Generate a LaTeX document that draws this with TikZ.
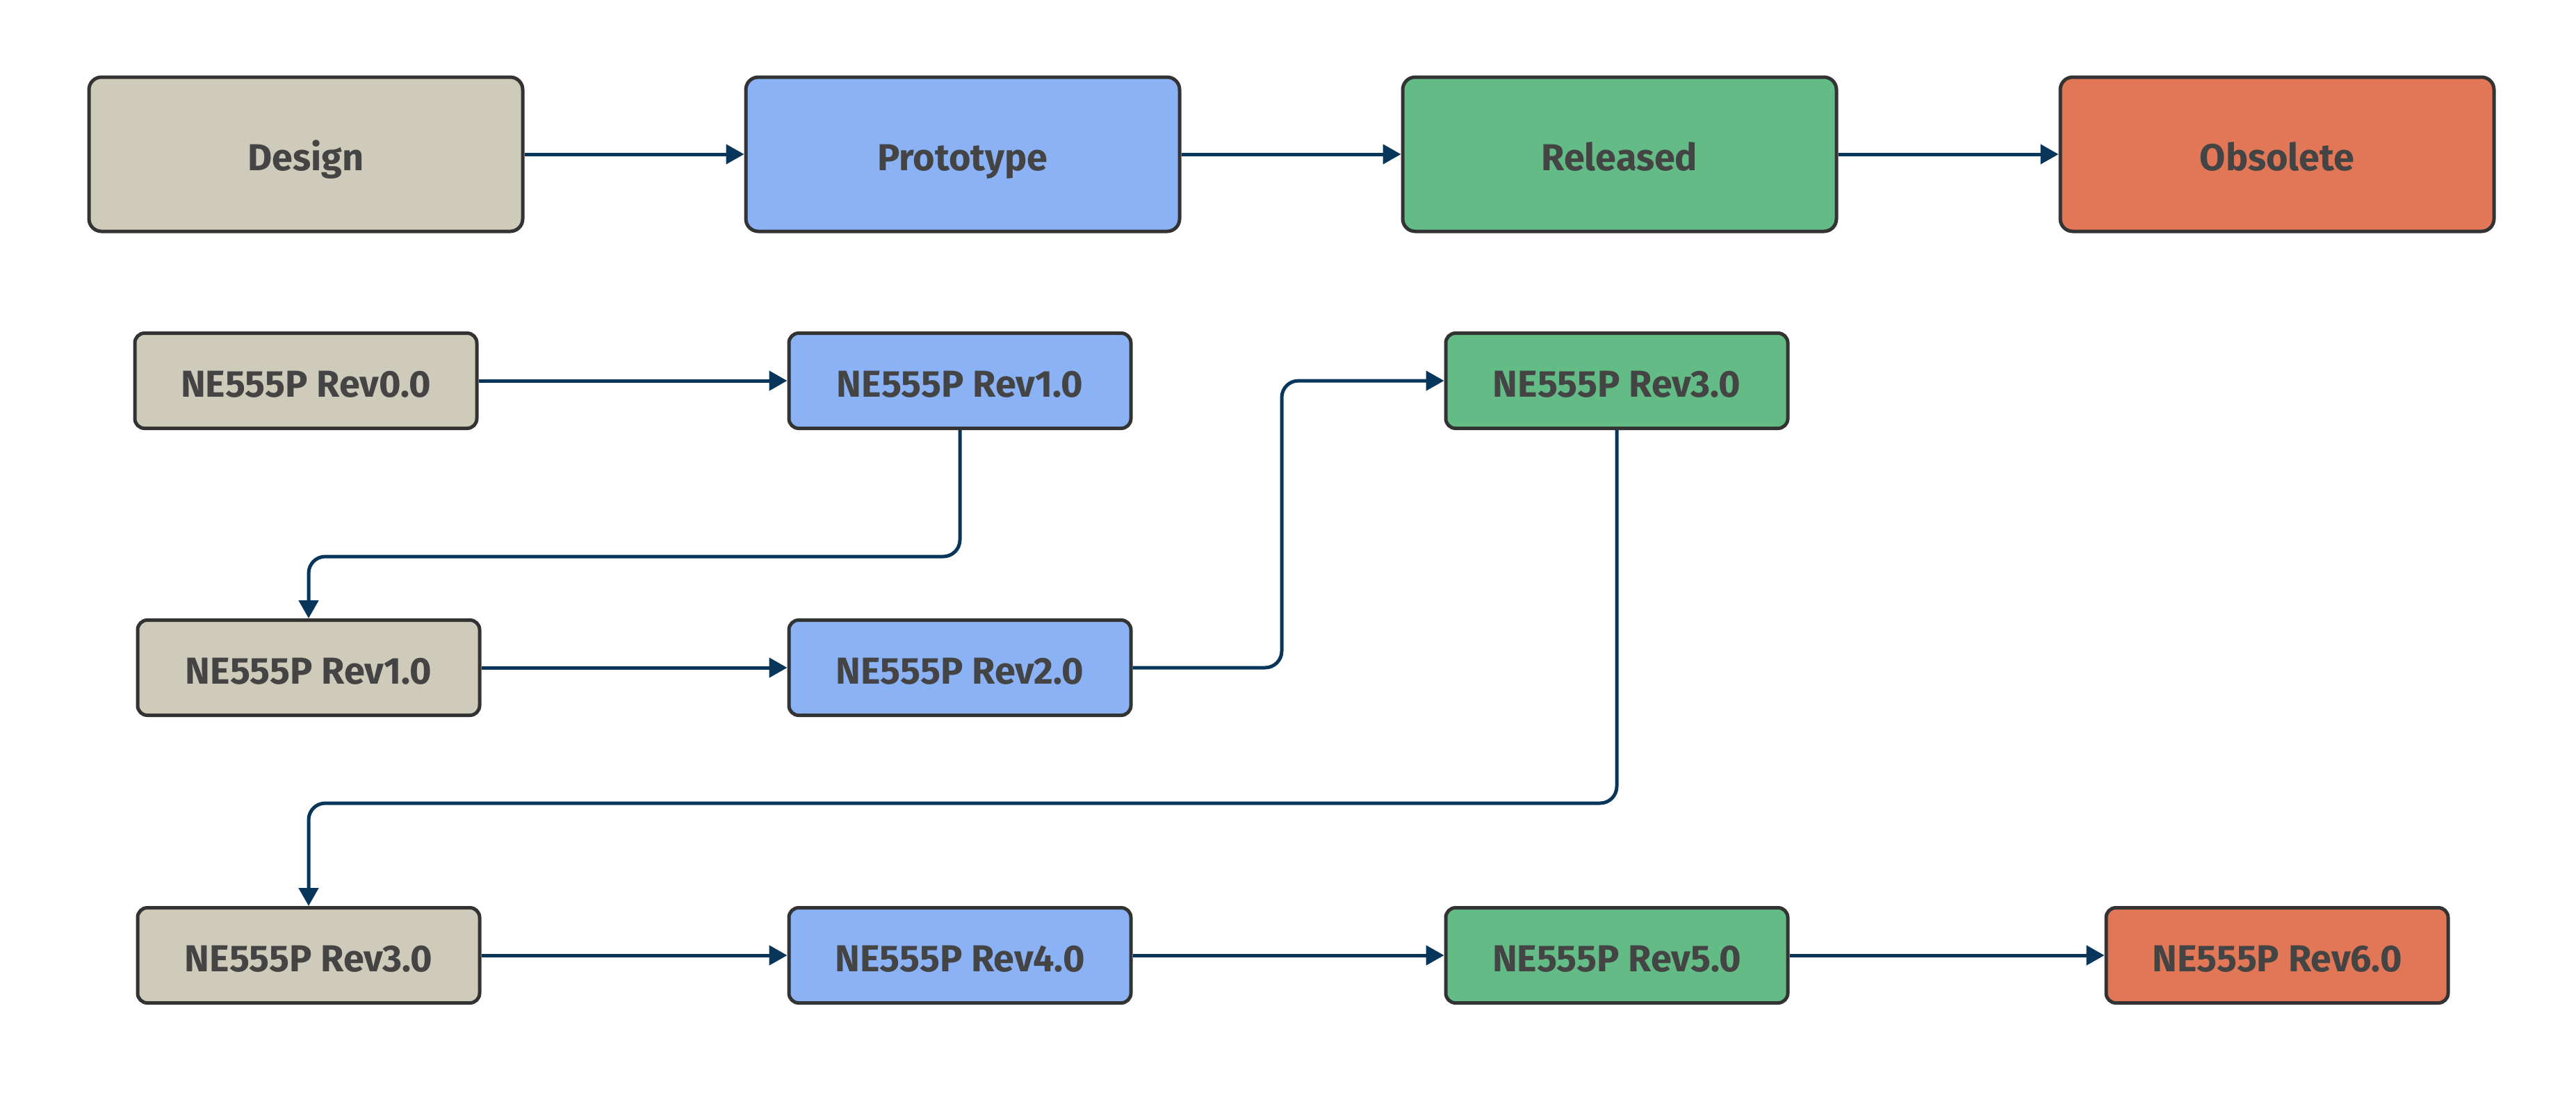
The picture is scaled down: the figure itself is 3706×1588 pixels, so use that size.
\documentclass[tikz,border=0pt]{standalone}
\usepackage{fontspec}
\setmainfont{Fira Sans}
\usetikzlibrary{arrows.meta}
\definecolor{cdesign}{HTML}{CFCBBA}
\definecolor{cproto}{HTML}{8AB2F5}
\definecolor{crel}{HTML}{63BC86}
\definecolor{cobs}{HTML}{E27757}
\definecolor{cborder}{HTML}{333333}
\definecolor{ctext}{HTML}{444444}
\definecolor{cline}{HTML}{08355A}
\begin{document}
\begin{tikzpicture}[x=0.25pt,y=-0.25pt,
  box/.style={draw=cborder,line width=1.25pt,text=ctext,font=\bfseries\fontsize{13.5}{16}\selectfont,inner sep=0pt,text height=11.5pt,text depth=0pt},
  big/.style={box,minimum width=156pt,minimum height=55.5pt,rounded corners=4.5pt},
  small/.style={box,minimum width=123pt,minimum height=34.25pt,rounded corners=3.5pt},
  conn/.style={draw=cline,line width=1.25pt,-{Triangle[length=6.5pt,width=7pt]},rounded corners=6pt}]
\path[use as bounding box] (0,0) rectangle (3706,1588);
% top row
\node[big,fill=cdesign] (design) at (440,222) {Design};
\node[big,fill=cproto] (proto) at (1385,222) {Prototype};
\node[big,fill=crel] (rel) at (2330,222) {Released};
\node[big,fill=cobs] (obs) at (3276,222) {Obsolete};
% row 2
\node[small,fill=cdesign] (r2a) at (440,548) {NE555P Rev0.0};
\node[small,fill=cproto] (r2b) at (1381,548) {NE555P Rev1.0};
\node[small,fill=crel] (r2c) at (2326,548) {NE555P Rev3.0};
% row 3
\node[small,fill=cdesign] (r3a) at (444,961) {NE555P Rev1.0};
\node[small,fill=cproto] (r3b) at (1381,961) {NE555P Rev2.0};
% row 4
\node[small,fill=cdesign] (r4a) at (444,1375) {NE555P Rev3.0};
\node[small,fill=cproto] (r4b) at (1381,1375) {NE555P Rev4.0};
\node[small,fill=crel] (r4c) at (2326,1375) {NE555P Rev5.0};
\node[small,fill=cobs] (r4d) at (3276,1375) {NE555P Rev6.0};
% elbows
\coordinate (m1) at (444,801);
\coordinate (m2) at (1844,548);
\coordinate (m3) at (444,1156);
% connectors
\draw[conn] (design) -- (proto);
\draw[conn] (proto) -- (rel);
\draw[conn] (rel) -- (obs);
\draw[conn] (r2a) -- (r2b);
\draw[conn] (r2b.south) |- (m1) -- (r3a.north);
\draw[conn] (r3a) -- (r3b);
\draw[conn] (r3b.east) -| (m2) -- (r2c.west);
\draw[conn] (r2c.south) |- (m3) -- (r4a.north);
\draw[conn] (r4a) -- (r4b);
\draw[conn] (r4b) -- (r4c);
\draw[conn] (r4c) -- (r4d);
\end{tikzpicture}
\end{document}
